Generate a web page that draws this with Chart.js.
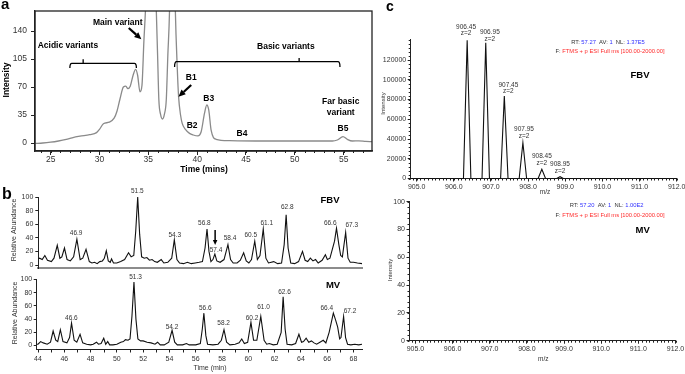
<!DOCTYPE html>
<html><head><meta charset="utf-8">
<script src="https://cdn.jsdelivr.net/npm/chart.js@4.4.1/dist/chart.umd.min.js"></script>
<style>
html,body{margin:0;padding:0;background:#fff}
#wrap{position:relative;width:685px;height:374px;overflow:hidden;font-family:'Liberation Sans',Arial,sans-serif}
canvas{position:absolute;display:block}
.pl{position:absolute;font-weight:bold;line-height:1;color:#000;font-family:'Liberation Sans',Arial,sans-serif}
</style></head><body><div id="wrap">
<canvas id="cA" width="380" height="180" style="left:0;top:0"></canvas>
<canvas id="cB1" width="380" height="92" style="left:0;top:180px"></canvas>
<canvas id="cB2" width="380" height="102" style="left:0;top:272px"></canvas>
<canvas id="cC1" width="305" height="195" style="left:380px;top:0"></canvas>
<canvas id="cC2" width="305" height="179" style="left:380px;top:195px"></canvas>
<div class="pl" style="left:1px;top:-4px;font-size:15px">a</div>
<div class="pl" style="left:2px;top:186px;font-size:16px">b</div>
<div class="pl" style="left:386px;top:-1px;font-size:14px">c</div>
</div>
<script>
// ---------- DATA ----------
// Panel a: ion-exchange chromatogram [time (mins), intensity]
const A_TRACE = [[23.4,-0.5],[24.2,0],[25.0,1],[25.8,2.5],[26.6,4.5],[27.2,6.5],[28.0,8.5],[29.0,10.5],[29.7,13],[30.0,17],[30.4,24],[31.0,26],[31.5,31],[31.8,40],[32.1,55],[32.45,70],[32.7,71],[32.9,68],[33.15,71],[33.45,85],[33.7,92],[33.9,85],[34.15,64],[34.35,72],[34.55,128],[34.72,170],[35.3,420],[35.82,165],[35.95,110],[36.08,54],[36.25,36],[36.45,30],[36.65,36],[36.84,54],[37.0,110],[37.18,170],[37.45,400],[37.76,170],[37.96,95],[38.1,58],[38.3,35],[38.47,24.6],[38.8,17],[39.22,12],[39.6,10],[40.07,8.8],[40.41,14],[40.75,37],[40.99,47.5],[41.19,41],[41.43,16],[41.94,4.6],[43.3,2.9],[46.0,2.5],[49.4,2.5],[53.84,2.5],[54.35,3.75],[54.93,7.9],[55.37,4.6],[55.88,2.5],[56.56,2.7],[57.25,2],[57.9,1.6]];
const A_X_TICKS = [25,30,35,40,45,50,55];
const A_Y_TICKS = [0,35,70,105,140];

// Panel b: peptide maps [time (min), relative abundance]
const FBV_TRACE = [[43.9,9],[44.0,10],[44.2,8],[44.4,14],[44.6,7],[44.9,5],[45.1,10],[45.35,29],[45.55,10],[45.7,12],[45.9,25],[46.1,8],[46.35,6],[46.6,12],[46.85,38],[47.1,8],[47.3,10],[47.55,23],[47.8,5],[48.0,3],[48.2,4],[48.4,2],[48.6,5],[48.8,6],[48.95,10],[49.1,21],[49.25,6],[49.4,4],[49.5,9],[49.65,3],[49.9,3],[50.2,5],[50.5,8],[50.8,18],[51.0,12],[51.2,14],[51.35,50],[51.5,100],[51.65,45],[51.8,12],[52.0,10],[52.2,11],[52.4,7],[52.6,8],[52.8,5],[53.0,4],[53.3,8],[53.5,3],[53.8,4],[54.1,10],[54.3,37],[54.5,8],[54.7,3],[55.0,2],[55.3,4],[55.6,2],[55.9,3],[56.2,4],[56.45,5],[56.65,25],[56.8,53],[56.95,20],[57.1,5],[57.25,8],[57.4,16],[57.55,6],[57.8,4],[58.1,8],[58.4,30],[58.6,8],[58.8,3],[59.1,3],[59.35,7],[59.6,18],[59.8,6],[60.0,3],[60.2,8],[60.45,35],[60.65,8],[60.85,14],[61.1,53],[61.3,10],[61.5,3],[61.9,5],[62.2,2],[62.5,3],[62.7,30],[62.85,74],[63.0,25],[63.2,3],[63.5,2],[63.8,5],[64.1,20],[64.3,7],[64.5,5],[64.7,10],[64.9,6],[65.1,8],[65.3,3],[65.6,7],[65.85,15],[66.0,8],[66.2,10],[66.55,35],[66.7,54],[66.88,30],[67.02,14],[67.15,12],[67.4,48],[67.58,10],[67.75,4],[68.0,4],[68.3,3],[68.65,2]];
const MV_TRACE = [[43.9,2],[44.0,2],[44.2,6],[44.4,4],[44.7,2],[44.95,5],[45.15,22],[45.35,8],[45.5,6],[45.7,24],[45.9,6],[46.2,4],[46.4,12],[46.55,34],[46.75,8],[46.95,5],[47.2,17],[47.4,4],[47.7,2],[48.0,1],[48.2,2],[48.45,5],[48.6,2],[48.8,3],[49.0,11],[49.15,2],[49.3,6],[49.45,1],[49.7,1],[50.0,2],[50.3,5],[50.5,6],[50.65,9],[50.85,8],[51.0,10],[51.15,45],[51.3,96],[51.45,40],[51.6,10],[51.8,7],[52.0,7],[52.3,5],[52.6,4],[52.9,2],[53.1,5],[53.3,1],[53.6,1],[53.95,5],[54.2,23],[54.4,5],[54.6,1],[55.0,1],[55.3,3],[55.5,1],[56.0,1],[56.35,3],[56.5,25],[56.62,49],[56.77,15],[56.9,2],[57.3,1],[57.7,2],[57.95,8],[58.15,24],[58.35,5],[58.6,1],[59.0,2],[59.3,4],[59.5,10],[59.7,3],[59.95,5],[60.2,35],[60.4,8],[60.65,8],[60.95,44],[61.2,8],[61.4,2],[61.6,3],[61.9,1],[62.2,2],[62.5,20],[62.65,74],[62.8,25],[62.95,2],[63.3,1],[63.6,3],[63.85,17],[64.05,5],[64.2,6],[64.4,11],[64.6,5],[64.8,7],[65.0,4],[65.2,2],[65.45,5],[65.7,8],[65.9,4],[66.15,20],[66.47,49],[66.65,38],[66.8,28],[66.95,10],[67.05,12],[67.25,44],[67.4,12],[67.55,2],[67.8,1],[68.1,2],[68.4,1],[68.65,2]];
const B_X_TICKS = [44,46,48,50,52,54,56,58,60,62,64,66,68];
const B_Y_TICKS = [0,20,40,60,80,100];
const FBV_PEAK_LABELS = ['46.9','51.5','54.3','56.8','57.4','58.4','60.5','61.1','62.8','66.6','67.3'];
const MV_PEAK_LABELS = ['46.6','51.3','54.2','56.6','58.2','60.2','61.0','62.6','66.4','67.2'];

// Panel c: mass spectra [m/z, intensity]
const MS_FBV = [[904.84,0],[906.26,0],[906.36,140000],[906.46,0],[906.76,0],[906.86,137500],[906.96,0],[907.26,0],[907.36,83500],[907.46,0],[907.76,0],[907.86,36200],[907.96,0],[908.27,0],[908.37,9300],[908.47,0],[908.77,0],[908.86,1800],[908.95,0],[912.0,0]];
const MS_MV = [];
const C_X_TICKS = [905,906,907,908,909,910,911,912];
const C1_Y_TICKS = [0,20000,40000,60000,80000,100000,120000];
const C2_Y_TICKS = [0,20,40,60,80,100];
const C_PEAK_LABELS = ['906.45','906.95','907.45','907.95','908.45','908.95'];

// ---------- annotation anchors (data units) ----------
const FBV_LABEL_AT = [[46.79,46.6],[51.47,107.8],[54.33,44.1],[56.6,61.3],[57.49,22],[58.56,40.1],[60.15,44.1],[61.37,61.3],[62.94,84.9],[66.22,61.3],[67.87,58.8]];
const MV_LABEL_AT = [[46.54,42.1],[51.42,104.2],[54.2,28.5],[56.73,56.4],[58.12,34.5],[60.28,42.1],[61.16,58.8],[62.75,81.5],[65.97,56.4],[67.74,52.7]];
const C_LABEL_AT = [[906.33,147000],[906.97,141300],[907.47,88300],[907.89,43000],[908.37,15400],[908.86,7300]];

// ---------- helpers ----------
const FONT = "'Liberation Sans', Arial, sans-serif";
const pts = arr => arr.map(p => ({x: p[0], y: p[1]}));

function axis(o) {
  return {
    type: 'linear', min: o.min, max: o.max,
    afterFit: s => {
      if (s.isHorizontal()) { s.height = o.size; s.paddingLeft = 0; s.paddingRight = 0; }
      else { s.width = o.size; s.paddingTop = 0; s.paddingBottom = 0; }
    },
    afterBuildTicks: s => { s.ticks = o.ticks.map(v => ({value: v})); },
    border: {display: true, color: o.bc || '#222', width: o.bw || 1},
    grid: {display: o.tl > 0, drawOnChartArea: false, drawTicks: o.tl > 0, tickLength: o.tl || 0, color: '#222', tickColor: '#222', lineWidth: 1},
    ticks: {display: o.labels !== false, font: {family: FONT, size: o.fs, weight: o.fw || 'normal'}, color: o.tc || '#333', padding: o.pad || 0,
      maxRotation: 0, minRotation: 0, autoSkip: false, callback: o.fmt || (v => String(v))}
  };
}

const textPlugin = {
  id: 'texts',
  afterDraw(chart, args, opts) {
    const ctx = chart.ctx, xs = chart.scales.x, ys = chart.scales.y;
    (opts.items || []).forEach(it => {
      let x = it.x, y = it.y;
      if (it.data) { x = xs.getPixelForValue(it.x); y = ys.getPixelForValue(it.y); }
      x += it.dx || 0; y += it.dy || 0;
      ctx.save();
      ctx.font = it.font; ctx.textBaseline = 'middle';
      ctx.translate(x, y); if (it.rot) ctx.rotate(it.rot);
      if (it.parts) {
        let w = 0; it.parts.forEach(p => { w += ctx.measureText(p[0]).width; });
        let cx = -w / 2; ctx.textAlign = 'left';
        it.parts.forEach(p => { ctx.fillStyle = p[1]; ctx.fillText(p[0], cx, 0); cx += ctx.measureText(p[0]).width; });
      } else {
        ctx.textAlign = it.align || 'center'; ctx.fillStyle = it.color || '#000'; ctx.fillText(it.t, 0, 0);
      }
      ctx.restore();
    });
  }
};

const shapePlugin = {
  id: 'shapes',
  afterDraw(chart, args, opts) {
    const ctx = chart.ctx, xs = chart.scales.x, ys = chart.scales.y;
    const X = v => xs.getPixelForValue(v), Y = v => ys.getPixelForValue(v);
    (opts.items || []).forEach(it => {
      ctx.save(); ctx.strokeStyle = '#000'; ctx.fillStyle = '#000'; ctx.lineWidth = it.w || 1.2;
      if (it.type === 'arrow') {
        const x1 = X(it.x1), y1 = Y(it.y1), x2 = X(it.x2), y2 = Y(it.y2);
        const a = Math.atan2(y2 - y1, x2 - x1), h = it.head || 6, hw = h * 0.45;
        const bx = x2 - h * Math.cos(a), by = y2 - h * Math.sin(a);
        ctx.beginPath(); ctx.moveTo(x1, y1); ctx.lineTo(bx, by); ctx.stroke();
        ctx.beginPath(); ctx.moveTo(x2, y2);
        ctx.lineTo(bx + hw * Math.sin(a), by - hw * Math.cos(a));
        ctx.lineTo(bx - hw * Math.sin(a), by + hw * Math.cos(a));
        ctx.closePath(); ctx.fill();
      } else if (it.type === 'bracket') {
        const x1 = X(it.x1), x2 = X(it.x2), y = Y(it.y), ye = Y(it.ye), tx = X(it.tx), ty = Y(it.ty);
        ctx.beginPath(); ctx.moveTo(x1, ye); ctx.quadraticCurveTo(x1, y, x1 + 2, y); ctx.lineTo(x2 - 2, y); ctx.quadraticCurveTo(x2, y, x2, ye); ctx.stroke();
        ctx.beginPath(); ctx.moveTo(tx, y); ctx.lineTo(tx, ty); ctx.stroke();
      }
      ctx.restore();
    });
  }
};

const minorPlugin = {
  id: 'minor',
  afterDraw(chart, args, o) {
    const ctx = chart.ctx, ca = chart.chartArea;
    ctx.save(); ctx.strokeStyle = '#222'; ctx.lineWidth = 1;
    if (o.x) {
      const s = chart.scales.x;
      for (let i = 0; ; i++) { const v = o.x.from + i * o.x.step; if (v > s.max + 1e-9) break;
        const p = Math.round(s.getPixelForValue(v)) + 0.5;
        ctx.beginPath(); ctx.moveTo(p, ca.bottom); ctx.lineTo(p, ca.bottom + o.x.len); ctx.stroke(); }
    }
    if (o.y) {
      const s = chart.scales.y;
      for (let i = 0; ; i++) { const v = o.y.from + i * o.y.step; if (v > s.max + 1e-9) break;
        const p = Math.round(s.getPixelForValue(v)) + 0.5;
        ctx.beginPath(); ctx.moveTo(ca.left, p); ctx.lineTo(ca.left - o.y.len, p); ctx.stroke(); }
    }
    ctx.restore();
  }
};

const boxPlugin = {
  id: 'box',
  afterDraw(chart, args, o) {
    if (!o.on) return;
    const ctx = chart.ctx, ca = chart.chartArea;
    ctx.save(); ctx.strokeStyle = '#222'; ctx.lineWidth = 1.3;
    ctx.strokeRect(ca.left, ca.top, ca.right - ca.left, ca.bottom - ca.top); ctx.restore();
  }
};

function make(id, datasets, scales, padding, plugOpts) {
  return new Chart(document.getElementById(id), {
    type: 'line',
    data: {datasets},
    options: {
      responsive: false, animation: false, devicePixelRatio: 1, events: [],
      layout: {autoPadding: false, padding},
      scales,
      plugins: Object.assign({legend: {display: false}, tooltip: {enabled: false}}, plugOpts)
    },
    plugins: [textPlugin, shapePlugin, minorPlugin, boxPlugin]
  });
}

const B = "bold 8.5px " + FONT;
// ---------- Panel a ----------
make('cA',
  [{data: pts(A_TRACE), borderColor: '#8a8a8a', borderWidth: 1.3, pointRadius: 0, cubicInterpolationMode: 'monotone'}],
  {
    x: axis({min: 23.4, max: 57.9, size: 29, ticks: A_X_TICKS, tl: 4, pad: 0, fs: 8.5, bw: 1.5}),
    y: axis({min: -10, max: 165, size: 35, ticks: A_Y_TICKS, tl: 4, pad: 4, fs: 8.5, bw: 1.3})
  },
  {left: 0, top: 11, right: 8, bottom: 0},
  {
    box: {on: true},
    minor: {x: {from: 24, step: 1, len: 2}},
    texts: {items: [
      {t: 'Main variant', data: true, x: 31.87, y: 150.4, font: B},
      {t: 'Acidic variants', data: true, x: 26.77, y: 121.25, font: B},
      {t: 'Basic variants', data: true, x: 49.08, y: 120.4, font: B},
      {t: 'B1', data: true, x: 39.39, y: 82.1, font: B},
      {t: 'B2', data: true, x: 39.49, y: 21.25, font: B},
      {t: 'B3', data: true, x: 41.19, y: 55.9, font: B},
      {t: 'B4', data: true, x: 44.59, y: 11.25, font: B},
      {t: 'Far basic', data: true, x: 54.7, y: 51.6, font: B},
      {t: 'variant', data: true, x: 54.7, y: 37.9, font: B},
      {t: 'B5', data: true, x: 54.93, y: 18.4, font: B},
      {t: 'Time (mins)', x: 204, y: 170, font: B},
      {t: 'Intensity', x: 7, y: 80, rot: -Math.PI / 2, font: B}
    ]},
    shapes: {items: [
      {type: 'arrow', x1: 33.0, y1: 143.75, x2: 34.29, y2: 129.6, w: 2.2, head: 7},
      {type: 'arrow', x1: 39.39, y1: 72.5, x2: 38.09, y2: 57.9, w: 2.2, head: 7},
      {type: 'bracket', x1: 26.97, x2: 33.78, y: 99.6, ye: 93.75, tx: 28.33, ty: 104.6, w: 1.3},
      {type: 'bracket', x1: 37.69, x2: 54.62, y: 101.6, ye: 95, tx: 50.44, ty: 106.25, w: 1.3}
    ]}
  });

// ---------- Panel b ----------
const S6 = "6.5px " + FONT;
make('cB1',
  [{data: pts(FBV_TRACE), borderColor: '#111', borderWidth: 1.1, pointRadius: 0, clip: false}],
  {
    x: axis({min: 43.9, max: 68.65, size: 4, ticks: B_X_TICKS, tl: 0, labels: false, fs: 7, bc: '#8c8c8c', bw: 2}),
    y: axis({min: -4.4, max: 100, size: 38.3, ticks: B_Y_TICKS, tl: 3, pad: 2, fs: 7})
  },
  {left: 0, top: 17, right: 18, bottom: 0},
  {
    texts: {items: FBV_PEAK_LABELS.map((t, i) => ({t, data: true, x: FBV_LABEL_AT[i][0], y: FBV_LABEL_AT[i][1], font: S6, color: '#333'}))
      .concat([
        {t: 'FBV', x: 330, y: 20, font: "bold 9.5px " + FONT},
        {t: 'Relative Abundance', x: 14, y: 50, rot: -Math.PI / 2, font: "7px " + FONT, color: '#333'}
      ])},
    shapes: {items: [{type: 'arrow', x1: 57.42, y1: 51.5, x2: 57.42, y2: 29.4, w: 1.5, head: 5}]}
  });

make('cB2',
  [{data: pts(MV_TRACE), borderColor: '#111', borderWidth: 1.1, pointRadius: 0, clip: false}],
  {
    x: axis({min: 43.9, max: 68.65, size: 24.5, ticks: B_X_TICKS, tl: 3, pad: 2, fs: 7}),
    y: axis({min: -6, max: 100, size: 36.7, ticks: B_Y_TICKS, tl: 3, pad: 1.5, fs: 7})
  },
  {left: 0, top: 7.5, right: 18, bottom: 0},
  {
    minor: {x: {from: 45, step: 2, len: 3}},
    texts: {items: MV_PEAK_LABELS.map((t, i) => ({t, data: true, x: MV_LABEL_AT[i][0], y: MV_LABEL_AT[i][1], font: S6, color: '#333'}))
      .concat([
        {t: 'MV', x: 333, y: 13, font: "bold 9.5px " + FONT},
        {t: 'Relative Abundance', x: 15, y: 41, rot: -Math.PI / 2, font: "7px " + FONT, color: '#333'},
        {t: 'Time (min)', x: 210, y: 96.3, font: "7px " + FONT, color: '#333'}
      ])}
  });

// ---------- Panel c ----------
const S65 = "6.5px " + FONT;
const rt = (a, b, c) => [['RT: ', '#333'], [a, '#3030ff'], ['  AV: ', '#333'], [b, '#3030ff'], ['  NL: ', '#333'], [c, '#3030ff']];
const fl = [['F: ', '#333'], ['FTMS + p ESI Full ms [100.00-2000.00]', '#ff2a2a']];
make('cC1',
  [{data: pts(MS_FBV), borderColor: '#111', borderWidth: 1.1, pointRadius: 0, clip: false}],
  {
    x: axis({min: 904.84, max: 912, size: 16.5, ticks: C_X_TICKS, tl: 3, pad: 1, fs: 7, fmt: v => v.toFixed(1)}),
    y: axis({min: 0, max: 141300, size: 30.7, ticks: C1_Y_TICKS, tl: 3, pad: 1.5, fs: 7})
  },
  {left: 0, top: 39, right: 8.3, bottom: 0},
  {
    minor: {x: {from: 904.9, step: 0.1, len: 2}, y: {from: 0, step: 4000, len: 2}},
    texts: {items: C_PEAK_LABELS.map((t, i) => ({t, data: true, x: C_LABEL_AT[i][0], y: C_LABEL_AT[i][1], dy: -6.6, font: S65, color: '#333'}))
      .concat(C_PEAK_LABELS.map((t, i) => ({t: 'z=2', data: true, x: C_LABEL_AT[i][0], y: C_LABEL_AT[i][1], font: S65, color: '#333'})))
      .concat([
        {parts: rt('57.27', '1', '1.37E5'), x: 228, y: 42, font: "5.8px " + FONT},
        {parts: fl, x: 230, y: 51.7, font: "5.8px " + FONT},
        {t: 'FBV', x: 260, y: 75, font: "bold 9.5px " + FONT},
        {t: 'Intensity', x: 3.5, y: 103.5, rot: -Math.PI / 2, font: "6px " + FONT, color: '#333'},
        {t: 'm/z', x: 165, y: 192.5, font: S65, color: '#333'}
      ])}
  });

make('cC2',
  [{data: pts(MS_MV), borderColor: '#111', borderWidth: 1.1, pointRadius: 0}],
  {
    x: axis({min: 904.84, max: 912, size: 33.3, ticks: C_X_TICKS, tl: 3, pad: 1, fs: 7, fmt: v => v.toFixed(1)}),
    y: axis({min: 0, max: 100, size: 29.5, ticks: C2_Y_TICKS, tl: 3, pad: 1.5, fs: 7})
  },
  {left: 0, top: 6.7, right: 9.5, bottom: 0},
  {
    minor: {x: {from: 904.9, step: 0.1, len: 2}, y: {from: 0, step: 4, len: 2}},
    texts: {items: [
      {parts: rt('57.20', '1', '1.00E2'), x: 226.7, y: 10, font: "5.8px " + FONT},
      {parts: fl, x: 230, y: 20.7, font: "5.8px " + FONT},
      {t: 'MV', x: 262.7, y: 35.7, font: "bold 9.5px " + FONT},
      {t: 'Intensity', x: 10.7, y: 75, rot: -Math.PI / 2, font: "6px " + FONT, color: '#333'},
      {t: 'm/z', x: 163.3, y: 164, font: S65, color: '#333'}
    ]}
  });
</script></body></html>
